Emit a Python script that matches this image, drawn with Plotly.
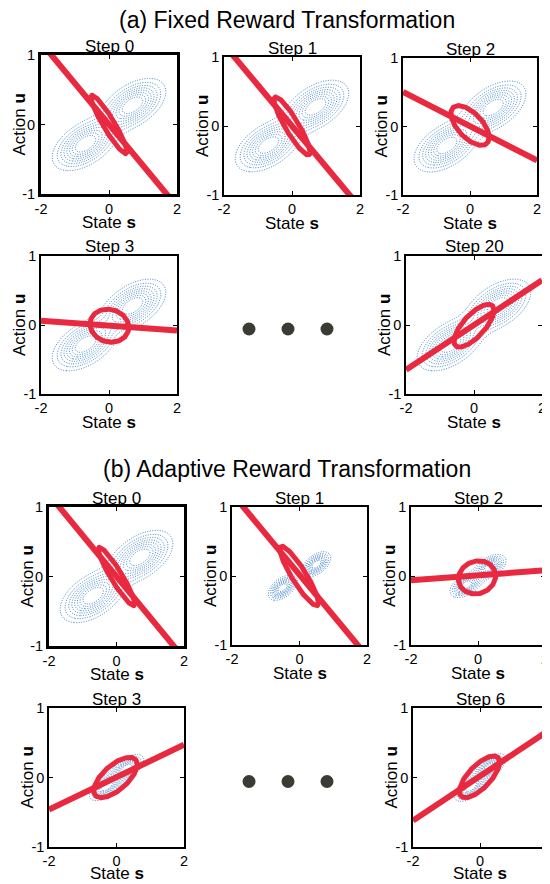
import numpy as np
import plotly.graph_objects as go

# page is 550x884; the browser body adds an 8 px margin, so the figure is drawn 8 px smaller
OFF = 8
W, H = 550 - OFF, 884 - OFF

# ---------------- data ----------------
panel_titles = ["(a) Fixed Reward Transformation", "(b) Adaptive Reward Transformation"]
step_labels = ["Step 0", "Step 1", "Step 2", "Step 3", "Step 20",
               "Step 0", "Step 1", "Step 2", "Step 3", "Step 6"]
x_tick_vals = [-2, 0, 2]
x_tick_text = ["-2", "0", "2"]
y_tick_vals = [-1, 0, 1]
y_tick_text = ["-1", "0", "1"]
x_label = "State <b>s</b>"
y_label = "Action <b>u</b>"

# policy line  u = slope * s + intercept
line_slope = [-0.59, -0.59, -0.25, -0.035, 0.325, -0.59, -0.59, 0.036, 0.233, 0.32]
line_icpt = [0.0, 0.0, 0.005, -0.01, 0.0, 0.0, 0.018, 0.01, 0.005, 0.02]

# red ellipse (centre, spreads, correlation)
ell_cs = [0.0, 0.0, 0.0, 0.01, 0.0, 0.0, -0.01, -0.03, -0.03, -0.015]
ell_cu = [0.0, 0.0, 0.015, -0.01, -0.01, 0.0, 0.0, -0.02, 0.0, 0.01]
ell_ss = [0.53, 0.53, 0.57, 0.57, 0.59, 0.54, 0.57, 0.555, 0.645, 0.60]
ell_su = [0.42, 0.42, 0.29, 0.24, 0.31, 0.42, 0.43, 0.24, 0.29, 0.30]
ell_rho = [-0.93, -0.90, -0.6, -0.1, 0.72, -0.93, -0.90, 0.1, 0.65, 0.7]

# blue contours: two symmetric lobes at +/-(ms, mu)
blob_ms = [0.7, 0.7, 0.7, 0.7, 0.7, 0.7, 0.5, 0.35, 0.30, 0.28]
blob_mu = [0.28, 0.28, 0.28, 0.28, 0.28, 0.28, 0.17, 0.13, 0.13, 0.14]
blob_ss = [0.48, 0.48, 0.48, 0.48, 0.48, 0.48, 0.21, 0.24, 0.25, 0.24]
blob_su = [0.19, 0.19, 0.19, 0.19, 0.19, 0.19, 0.09, 0.09, 0.10, 0.10]
blob_rho = [0.5, 0.5, 0.5, 0.5, 0.5, 0.5, 0.5, 0.5, 0.6, 0.6]
level_start, level_end, level_step = 0.13, 0.88, 0.1

dots_x = [1, 2, 3]
dots_y = [0, 0, 0]

# ---------------- layout constants (page pixels) ----------------
box_left = [41, 224, 403, 41, 406, 49, 232, 411, 49, 413]
box_right = [177, 360, 537, 177, 542, 184, 367, 545, 184, 547]
box_top = [55, 57, 58, 256, 256, 507, 507, 507, 708, 708]
box_bot = [194, 195, 195, 394, 394, 646, 645, 645, 847, 847]
xlab_gap = [28, 28, 28, 28, 28, 28, 28, 28, 26, 26]
frame_w = [2.8, 1.5, 1.5, 1.5, 1.5, 2.8, 1.5, 1.5, 1.5, 1.5]

RED = "#e8293f"
BLUE = "#3a80cc"
FONT = "Liberation Sans, Arial, sans-serif"


def px_x(p):
    return (p - OFF) / W


def px_y(p):
    return 1 - (p - OFF) / H


fig = go.Figure()

S = np.linspace(-2, 2, 241)
U = np.linspace(-1, 1, 161)
SS, UU = np.meshgrid(S, U)
t = np.linspace(0, 2 * np.pi, 241)


def lobe(ms, mu, ss, su, rho):
    dx = (SS - ms) / ss
    dy = (UU - mu) / su
    q = (dx ** 2 - 2 * rho * dx * dy + dy ** 2) / (1 - rho ** 2)
    return np.exp(-q / 2)


annotations = []
for i in range(10):
    k = i + 1
    xa, ya = f"x{k}", f"y{k}"
    z = lobe(blob_ms[i], blob_mu[i], blob_ss[i], blob_su[i], blob_rho[i]) + \
        lobe(-blob_ms[i], -blob_mu[i], blob_ss[i], blob_su[i], blob_rho[i])
    fig.add_trace(go.Contour(
        x=S, y=U, z=z, xaxis=xa, yaxis=ya, showscale=False,
        contours=dict(coloring="none", start=level_start, end=level_end, size=level_step),
        line=dict(color=BLUE, width=1, dash="1px,1.5px"), hoverinfo="skip"))

    r = ell_rho[i]
    ex = ell_cs[i] + ell_ss[i] * np.cos(t)
    ey = ell_cu[i] + ell_su[i] * (r * np.cos(t) + np.sqrt(1 - r ** 2) * np.sin(t))
    fig.add_trace(go.Scatter(x=ex, y=ey, mode="lines", xaxis=xa, yaxis=ya,
                             line=dict(color=RED, width=5), showlegend=False))

    lx = np.array([-2.0, 2.0])
    ly = line_slope[i] * lx + line_icpt[i]
    fig.add_trace(go.Scatter(x=lx, y=ly, mode="lines", xaxis=xa, yaxis=ya,
                             line=dict(color=RED, width=6), showlegend=False))

    axis_common = dict(ticks="inside", ticklen=4, tickwidth=1, tickcolor="black",
                       showline=True, mirror="ticks", linecolor="black",
                       linewidth=frame_w[i], showgrid=False, zeroline=False,
                       automargin=False,
                       tickfont=dict(size=14.5, color="black", family=FONT))
    fig.update_layout({
        f"xaxis{k}": dict(domain=[px_x(box_left[i]), px_x(box_right[i])], range=[-2, 2],
                          anchor=ya, tickvals=x_tick_vals, ticktext=x_tick_text, **axis_common),
        f"yaxis{k}": dict(domain=[px_y(box_bot[i]), px_y(box_top[i])], range=[-1, 1],
                          anchor=xa, tickvals=y_tick_vals, ticktext=y_tick_text, **axis_common),
    })

    cx = (box_left[i] + box_right[i]) / 2
    cy = (box_top[i] + box_bot[i]) / 2
    annotations.append(dict(text=step_labels[i], x=px_x(cx), y=px_y(box_top[i] - 9),
                            xref="paper", yref="paper", showarrow=False,
                            xanchor="center", yanchor="middle",
                            font=dict(size=17, color="black", family=FONT)))
    annotations.append(dict(text=x_label, x=px_x(cx), y=px_y(box_bot[i] + xlab_gap[i]),
                            xref="paper", yref="paper", showarrow=False,
                            xanchor="center", yanchor="middle",
                            font=dict(size=17, color="black", family=FONT)))
    annotations.append(dict(text=y_label, x=px_x(box_left[i] - 22), y=px_y(cy),
                            xref="paper", yref="paper", showarrow=False, textangle=-90,
                            xanchor="center", yanchor="middle",
                            font=dict(size=17, color="black", family=FONT)))

# panel titles
for title, ty in zip(panel_titles, [20, 469]):
    annotations.append(dict(text=title, x=px_x(287), y=px_y(ty), xref="paper", yref="paper",
                            showarrow=False, xanchor="center", yanchor="middle",
                            font=dict(size=23, color="black", family=FONT)))

# ellipsis dots between panels
for k, (top, bot) in zip([11, 12], [(256, 394), (708, 847)]):
    fig.add_trace(go.Scatter(x=dots_x, y=dots_y, mode="markers", xaxis=f"x{k}", yaxis=f"y{k}",
                             marker=dict(size=13, color="#3b3b34"), showlegend=False))
    fig.update_layout({
        f"xaxis{k}": dict(domain=[px_x(210), px_x(366)], range=[0, 4], visible=False,
                          anchor=f"y{k}", automargin=False),
        f"yaxis{k}": dict(domain=[px_y(bot + 4), px_y(top + 4)], range=[-1, 1], visible=False,
                          anchor=f"x{k}", automargin=False),
    })

fig.update_layout(width=W, height=H, margin=dict(l=0, r=0, t=0, b=0),
                  paper_bgcolor="white", plot_bgcolor="white", showlegend=False,
                  annotations=annotations, font=dict(family=FONT, color="black"))

fig.write_html("out.html")
